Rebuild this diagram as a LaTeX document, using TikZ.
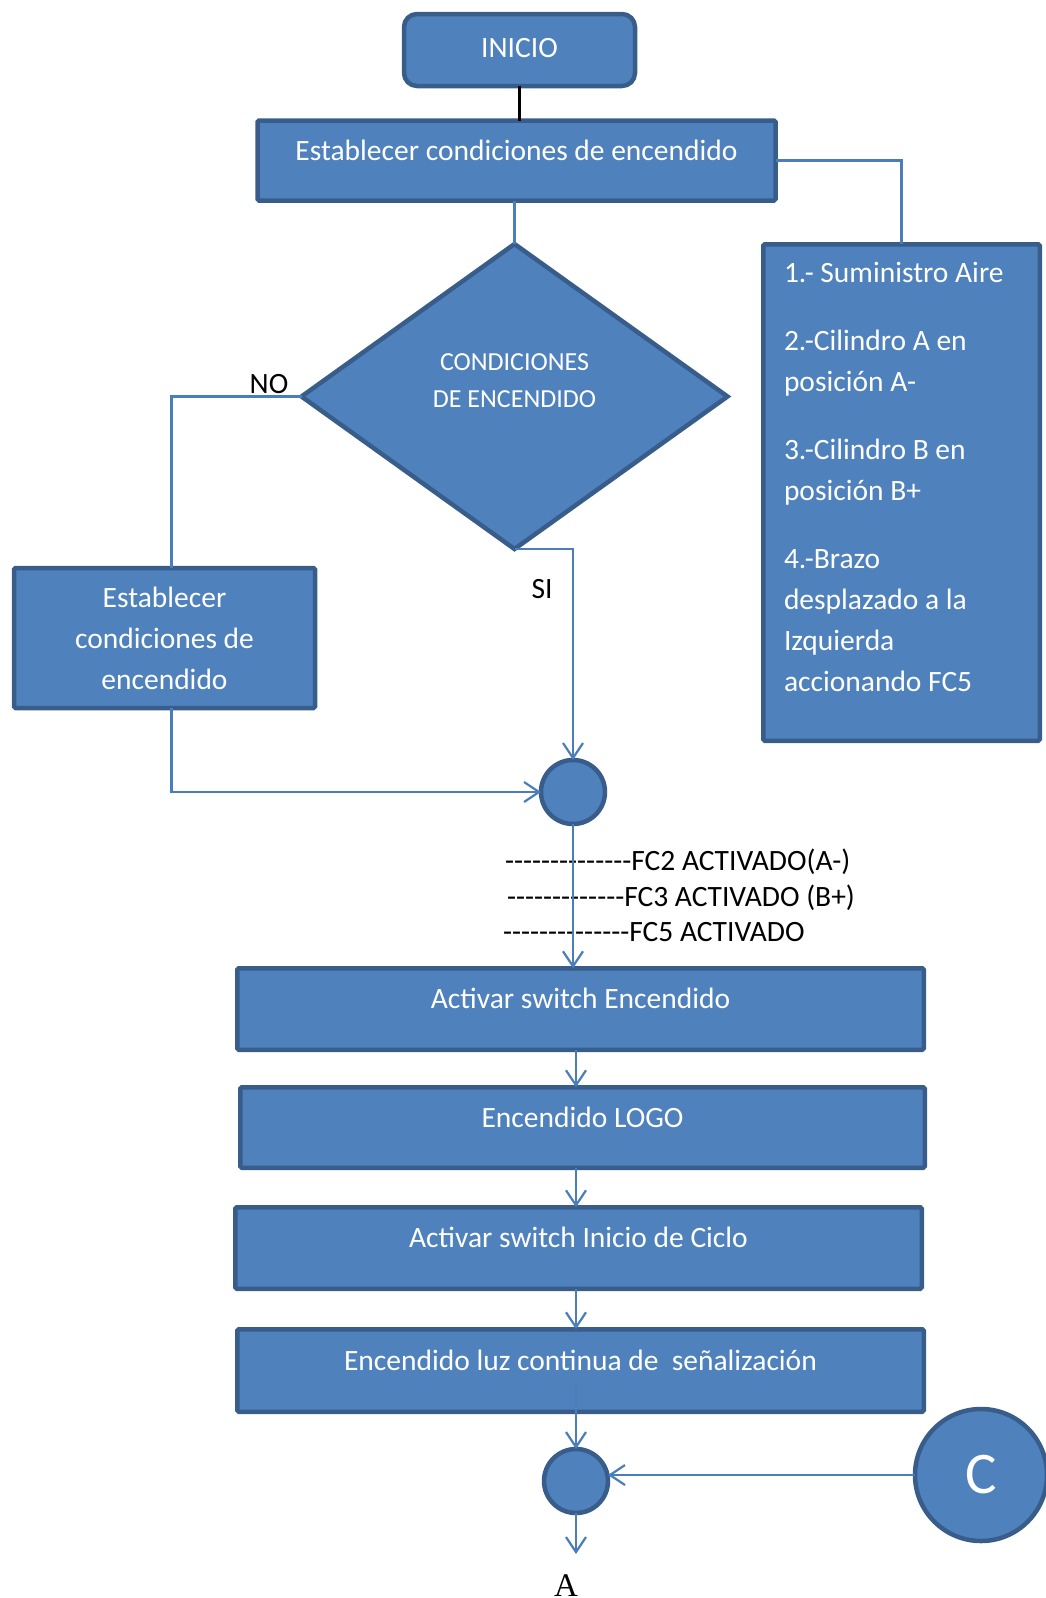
\documentclass[tikz,border=0pt]{standalone}
\usepackage{fontspec}
\setmainfont{Carlito}[Ligatures=TeXOff]
\newfontfamily\serifletter{Liberation Serif}
\usetikzlibrary{shapes.geometric,arrows.meta}
\definecolor{boxfill}{RGB}{79,129,189}
\definecolor{boxline}{RGB}{56,93,138}
\definecolor{wire}{RGB}{74,126,187}

\begin{document}
\begin{tikzpicture}[x=1pt,y=-1pt,
  every node/.style={inner sep=0pt,outer sep=0pt},
  blk/.style={draw=boxline,fill=boxfill,line width=4.5pt,text=white,
    font=\fontsize{29.5}{41}\selectfont},
  stepbox/.style={blk,rectangle,rounded corners=1.5pt,text height=19pt,text depth=20pt},
  junction/.style={blk,circle,minimum size=64pt},
  note/.style={text=black,font=\fontsize{29.5}{35}\selectfont,text height=19pt,text depth=0pt},
  wireline/.style={draw=wire,line width=2.2pt},
  flow/.style={wireline,-{Straight Barb[length=15pt,width=20pt,line width=2.2pt]}}
]
\useasboundingbox (0,0) rectangle (1046,1598);

% start block
\node[blk,rectangle,rounded corners=13pt,minimum width=231pt,minimum height=72pt,
  text height=19pt,text depth=4pt] (ini) at (519.5,50) {INICIO};

% power-on conditions
\node[stepbox,minimum width=518pt,minimum height=80pt] (est) at (516.5,160.5)
  {Establecer condiciones de encendido};

% decision
\node[blk,diamond,minimum width=426pt,minimum height=305pt] (dia) at (514.5,396.5) {};
\node[text=white,align=center,font=\fontsize{26}{37}\selectfont] (diatext)
  at ([yshift=16pt]dia.center) {CONDICIONES\\DE ENCENDIDO};

% NO branch
\node[blk,rectangle,rounded corners=1.5pt,align=center,minimum width=301pt,minimum height=140pt]
  (lb) at (164.5,638) {Establecer\\condiciones de\\encendido};

% list of conditions
\node[blk,rectangle,rounded corners=1.5pt,minimum width=276.5pt,minimum height=496.5pt]
  (list) at (901.5,492.5) {};
\node[anchor=base west,text width=250pt,align=flush left,text=white,
  font=\fontsize{29.5}{41}\selectfont] (listtext) at (784,282)
  {1.- Suministro Aire\\[27pt]
   2.-Cilindro A en\\posición A-\\[27pt]
   3.-Cilindro B en\\posición B+\\[27pt]
   4.-Brazo\\desplazado a la\\Izquierda\\accionando FC5};

% first junction
\node[junction] (c1) at (573,792) {};

% labels
\node[note] (no) at (269,384) {NO};
\node[note] (si) at (542,589) {SI};
\node[note,anchor=west] (fc2) at (505,861) {--------------FC2 ACTIVADO(A-)};
\node[note,anchor=west] (fc3) at (507,897) {-------------FC3 ACTIVADO (B+)};
\node[note,anchor=west] (fc5) at (503,932) {--------------FC5 ACTIVADO};

% sequence
\node[stepbox,minimum width=686.5pt,minimum height=81.5pt] (act) at (580.5,1009)
  {Activar switch Encendido};
\node[stepbox,minimum width=684.5pt,minimum height=80.5pt] (logo) at (582.5,1127.5)
  {Encendido LOGO};
\node[stepbox,minimum width=686.5pt,minimum height=81.5pt] (ciclo) at (578.5,1248)
  {Activar switch Inicio de Ciclo};
\node[stepbox,minimum width=686.5pt,minimum height=82.5pt] (luz) at (580.5,1370.5)
  {Encendido luz continua de~ señalización};

% second junction and connector
\node[junction] (c2) at (576,1481) {};
\node[blk,circle,minimum size=132pt,font=\fontsize{59}{60}\selectfont] (cc) at (981,1475) {C};
\node[anchor=base,font=\serifletter\fontsize{33}{35}\selectfont] (outA) at (566,1596) {A};

% connectors
\draw[line width=2.4pt,black] (ini.south) -- (ini.south |- est.north);
\draw[wireline] (dia.north |- est.south) -- (dia.north);
\draw[wireline] (est.east) -| (list.north);
\draw[wireline] (dia.west) -| ([xshift=7pt]lb.north);
\draw[flow] ([xshift=7pt]lb.south) |- (c1.west);
\draw[flow] (dia.south) -| (c1.north);
\draw[flow] (c1.south) -- (c1.south |- act.north);
\draw[flow] (act.south -| c2.center) -- (logo.north -| c2.center);
\draw[flow] (logo.south -| c2.center) -- (ciclo.north -| c2.center);
\draw[flow] (ciclo.south -| c2.center) -- (luz.north -| c2.center);
\draw[flow] ([yshift=-12pt]luz.center -| c2.center) -- (c2.north);
\draw[flow] (cc.west) -- (cc.west -| c2.east);
\draw[flow] (c2.south) -- ([yshift=-41pt]c2.south);
\end{tikzpicture}
\end{document}
